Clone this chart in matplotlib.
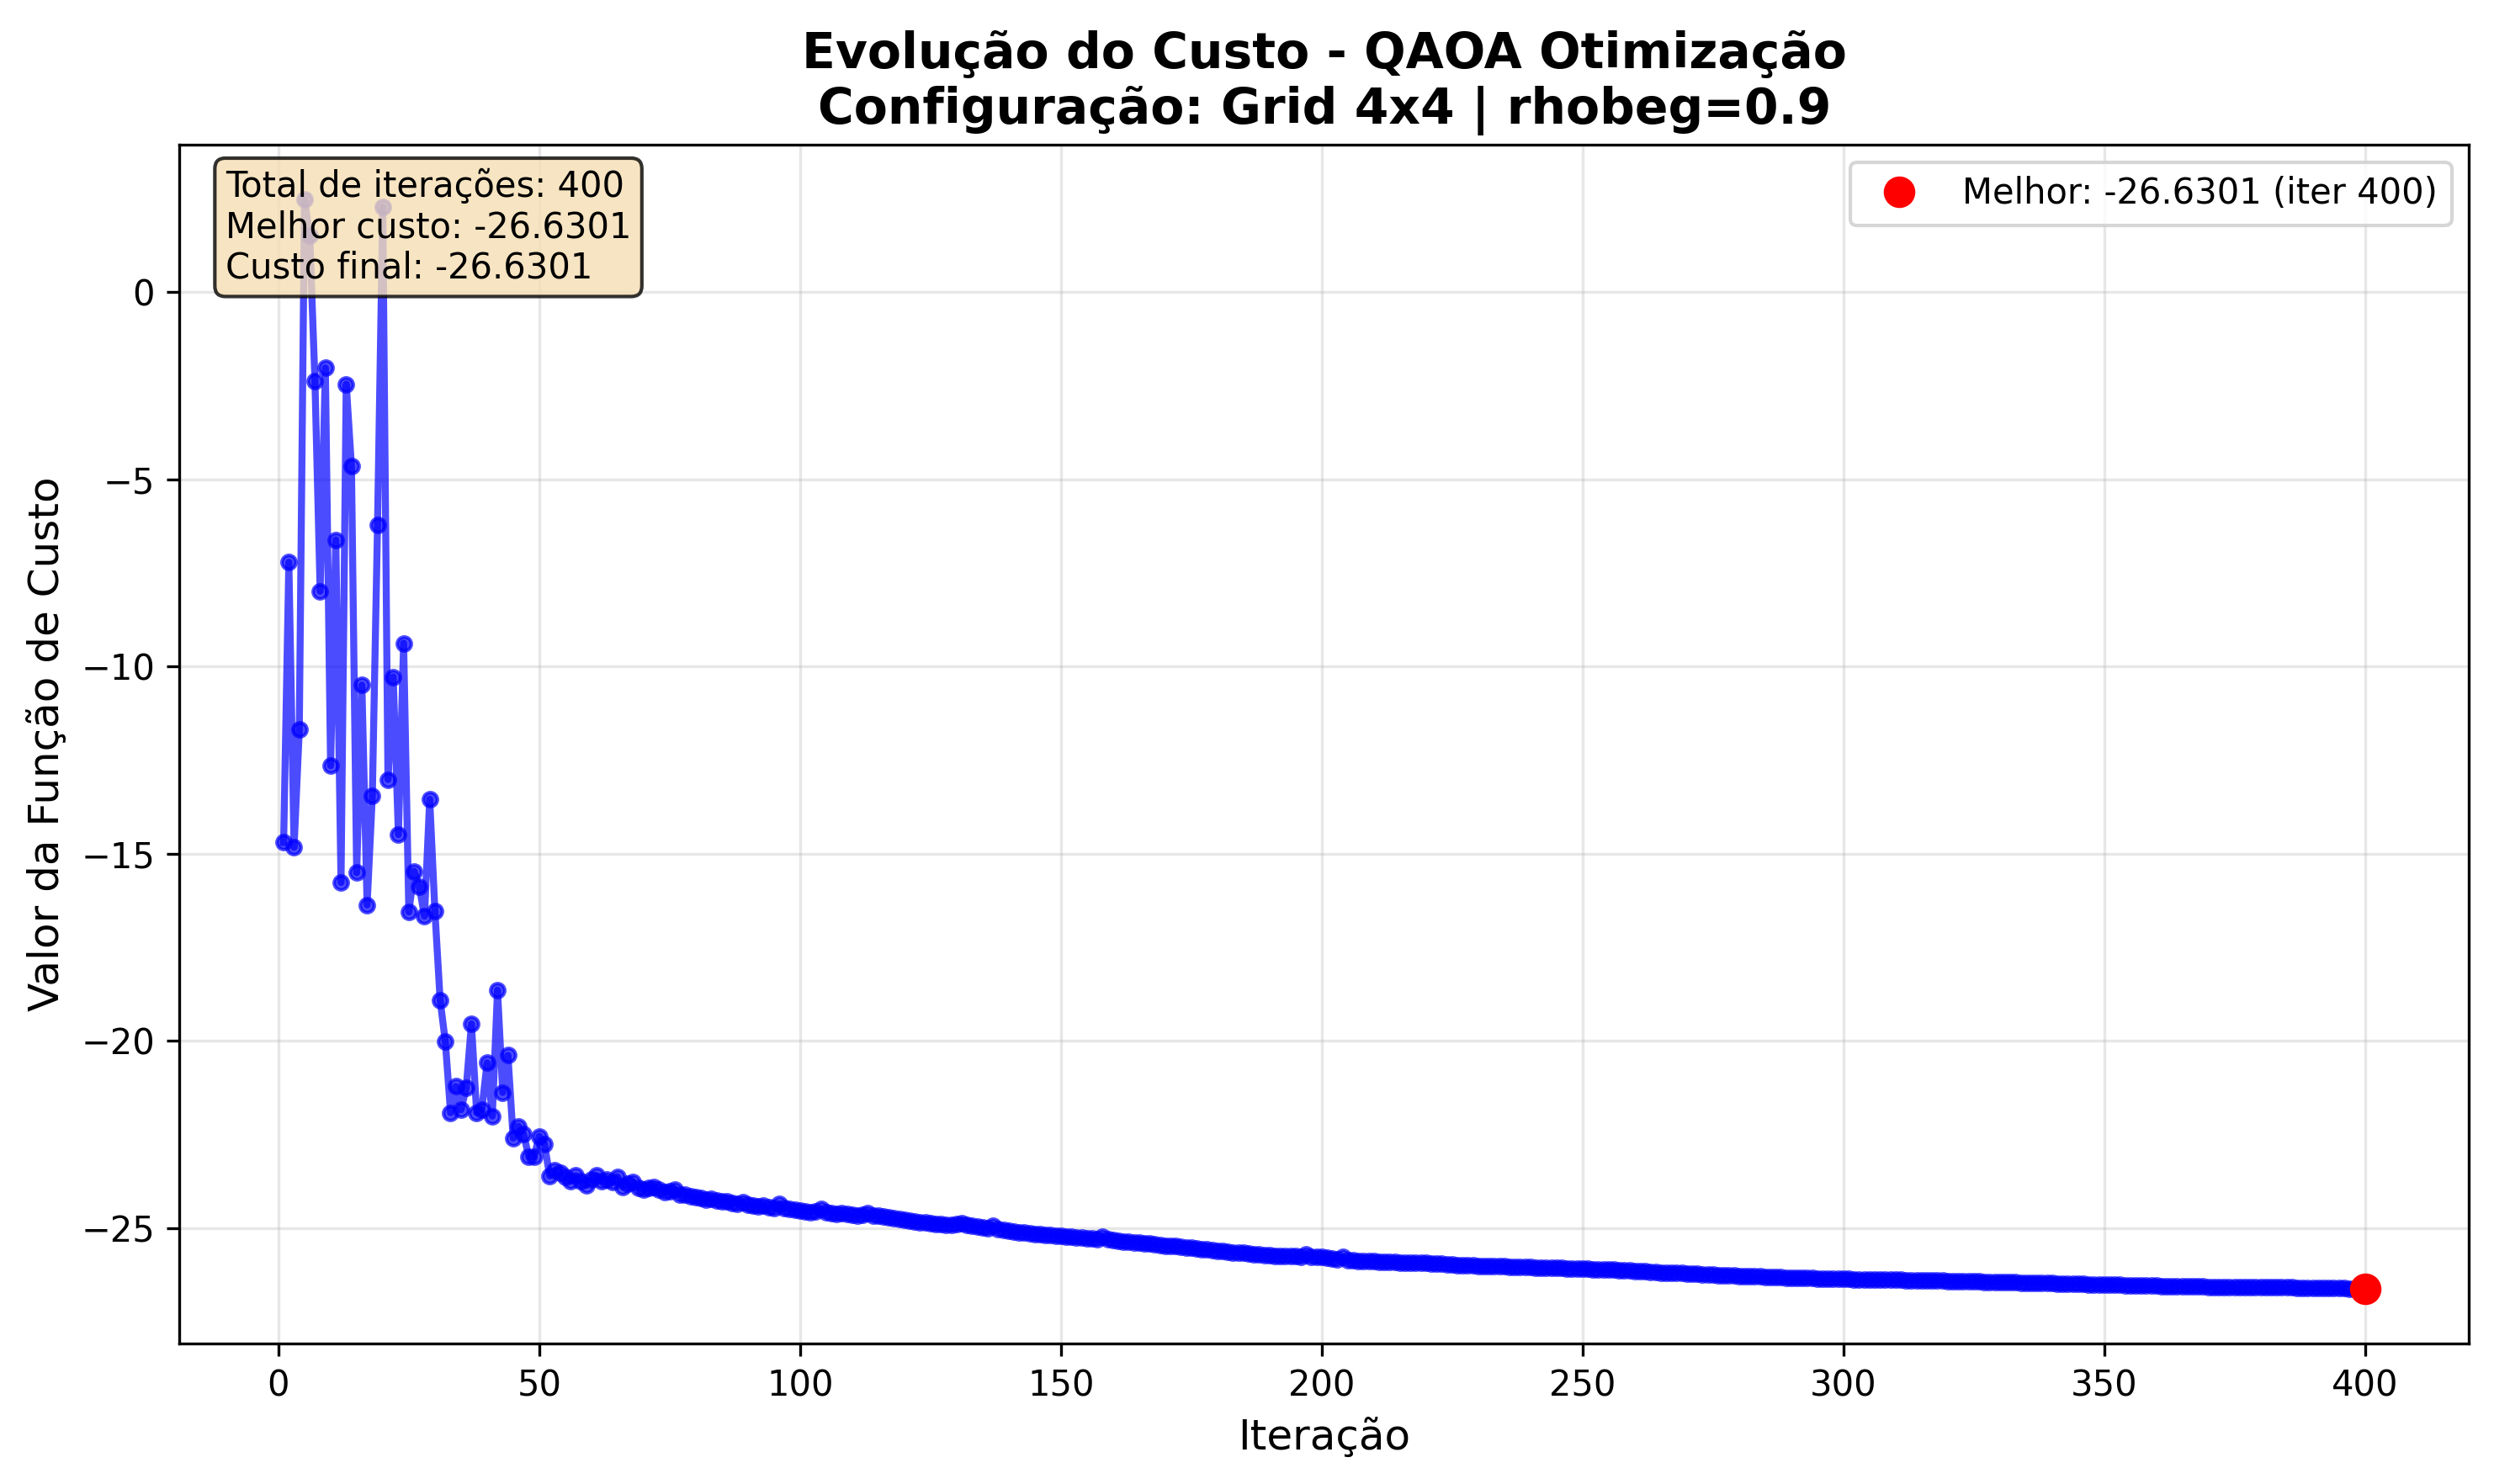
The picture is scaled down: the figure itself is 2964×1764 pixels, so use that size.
import matplotlib
matplotlib.use("Agg")
import matplotlib.pyplot as plt
import numpy as np

costs = [
    -14.70, -7.22, -14.83, -11.69, 2.48, 1.50, -2.37, -7.99, -2.03, -12.65,
    -6.62, -15.77, -2.46, -4.66, -15.51, -10.50, -16.37, -13.46, -6.22, 2.27,
    -13.02, -10.28, -14.49, -9.38, -16.56, -15.47, -15.88, -16.67, -13.55, -16.54,
    -18.91, -20.03, -21.92, -21.22, -21.84, -21.26, -19.55, -21.92, -21.83, -20.59,
    -22.01, -18.65, -21.38, -20.39, -22.60, -22.28, -22.50, -23.09, -23.09, -22.55,
    -22.76, -23.61, -23.45, -23.52, -23.63, -23.75, -23.60, -23.75, -23.86, -23.70,
    -23.60, -23.75, -23.71, -23.78, -23.63, -23.90, -23.82, -23.78, -23.92, -23.97,
    -23.93, -23.90, -23.98, -24.04, -24.01, -23.97, -24.12, -24.10, -24.15, -24.18,
    -24.20, -24.24, -24.22, -24.27, -24.30, -24.28, -24.33, -24.35, -24.32, -24.38,
    -24.40, -24.42, -24.40, -24.45, -24.47, -24.35, -24.46, -24.50, -24.52, -24.54,
    -24.55, -24.57, -24.56, -24.50, -24.58, -24.60, -24.62, -24.61, -24.63, -24.64,
    -24.66, -24.65, -24.60, -24.66, -24.68, -24.70, -24.72, -24.74, -24.77, -24.79,
    -24.80, -24.82, -24.84, -24.85, -24.87, -24.89, -24.90, -24.91, -24.92, -24.90,
    -24.88, -24.92, -24.95, -24.97, -24.99, -25.00, -24.95, -25.02, -25.05, -25.08,
    -25.10, -25.12, -25.13, -25.15, -25.16, -25.17, -25.18, -25.19, -25.20, -25.22,
    -25.23, -25.24, -25.25, -25.26, -25.27, -25.28, -25.29, -25.24, -25.30, -25.32,
    -25.34, -25.36, -25.37, -25.38, -25.39, -25.41, -25.42, -25.44, -25.45, -25.47,
    -25.48, -25.49, -25.50, -25.52, -25.53, -25.55, -25.56, -25.58, -25.59, -25.61,
    -25.62, -25.63, -25.65, -25.66, -25.67, -25.68, -25.70, -25.71, -25.72, -25.73,
    -25.74, -25.74, -25.75, -25.76, -25.76, -25.77, -25.70, -25.77, -25.78, -25.78,
    -25.80, -25.82, -25.84, -25.78, -25.86, -25.87, -25.88, -25.88, -25.89, -25.89,
    -25.90, -25.90, -25.91, -25.91, -25.92, -25.92, -25.93, -25.93, -25.94, -25.94,
    -25.95, -25.95, -25.96, -25.97, -25.98, -25.99, -25.99, -26.00, -26.00, -26.01,
    -26.01, -26.02, -26.02, -26.03, -26.03, -26.04, -26.04, -26.05, -26.05, -26.05,
    -26.06, -26.06, -26.06, -26.07, -26.07, -26.07, -26.08, -26.08, -26.08, -26.08,
    -26.09, -26.10, -26.10, -26.11, -26.12, -26.12, -26.13, -26.14, -26.14, -26.15,
    -26.16, -26.16, -26.17, -26.18, -26.19, -26.19, -26.20, -26.21, -26.21, -26.22,
    -26.23, -26.23, -26.24, -26.25, -26.25, -26.26, -26.26, -26.27, -26.27, -26.28,
    -26.29, -26.29, -26.30, -26.30, -26.31, -26.31, -26.32, -26.32, -26.33, -26.33,
    -26.33, -26.34, -26.34, -26.34, -26.35, -26.35, -26.35, -26.36, -26.36, -26.36,
    -26.36, -26.37, -26.37, -26.37, -26.38, -26.38, -26.38, -26.39, -26.39, -26.39,
    -26.39, -26.40, -26.40, -26.40, -26.40, -26.41, -26.41, -26.41, -26.41, -26.42,
    -26.42, -26.42, -26.42, -26.43, -26.43, -26.43, -26.44, -26.44, -26.44, -26.44,
    -26.44, -26.45, -26.45, -26.46, -26.46, -26.47, -26.47, -26.48, -26.48, -26.48,
    -26.49, -26.49, -26.49, -26.50, -26.50, -26.50, -26.51, -26.51, -26.51, -26.51,
    -26.52, -26.52, -26.52, -26.53, -26.53, -26.53, -26.54, -26.54, -26.54, -26.54,
    -26.55, -26.55, -26.55, -26.55, -26.55, -26.56, -26.56, -26.56, -26.56, -26.57,
    -26.57, -26.57, -26.57, -26.57, -26.58, -26.58, -26.58, -26.58, -26.58, -26.58,
    -26.58, -26.59, -26.59, -26.59, -26.59, -26.59, -26.60, -26.60, -26.60, -26.60,
    -26.60, -26.60, -26.61, -26.61, -26.61, -26.61, -26.62, -26.62, -26.62, -26.6301,
]
iterations = list(range(1, len(costs) + 1))

best_idx = int(np.argmin(costs))
best_cost = costs[best_idx]
best_iter = iterations[best_idx]
final_cost = costs[-1]

fig, ax = plt.subplots(figsize=(9.88, 5.88), dpi=300)
fig.subplots_adjust(left=0.072, right=0.990, top=0.9025, bottom=0.0947)

ax.plot(iterations, costs, 'b-', linewidth=2, alpha=0.7, marker='o', markersize=4)
ax.plot(best_iter, best_cost, 'ro', markersize=8,
        label=f'Melhor: {best_cost:.4f} (iter {best_iter})')

ax.set_title('Evolução do Custo - QAOA Otimização\nConfiguração: Grid 4x4 | rhobeg=0.9',
             fontsize=14, fontweight='bold')
ax.set_xlabel('Iteração', fontsize=12)
ax.set_ylabel('Valor da Função de Custo', fontsize=12)
ax.grid(True, alpha=0.3)
ax.legend(loc='upper right')

info = (f'Total de iterações: {len(costs)}\n'
        f'Melhor custo: {best_cost:.4f}\n'
        f'Custo final: {final_cost:.4f}')
ax.text(0.02, 0.98, info, transform=ax.transAxes, fontsize=10, va='top',
        bbox=dict(boxstyle='round', facecolor='wheat', alpha=0.8))

fig.savefig('out.png', dpi=300)
